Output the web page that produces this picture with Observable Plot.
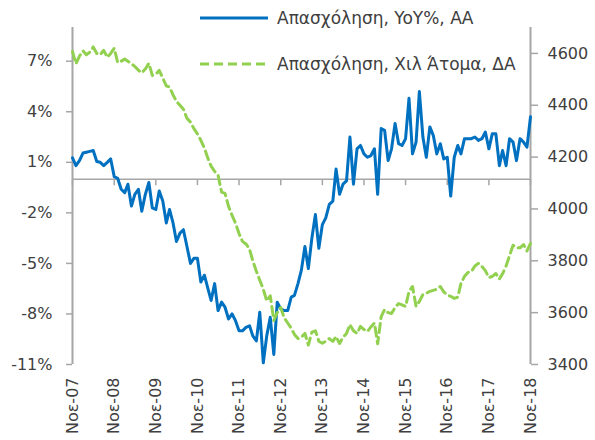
<!DOCTYPE html>
<html><head><meta charset="utf-8">
<script src="https://cdn.jsdelivr.net/npm/d3@7"></script>
<script src="https://cdn.jsdelivr.net/npm/@observablehq/plot@0.6"></script>
<style>
body{margin:0;background:#fff;}
#chart{width:595px;height:440px;}
</style>
</head><body><div id="chart"></div>
<script>
// Monthly observations, Nov 2007 .. Nov 2018
const firstMonth = new Date(Date.UTC(2007, 10, 1));
const lastMonth = new Date(Date.UTC(2018, 10, 1));

// Employment, YoY % (left axis)
const yoy = [
 1.26, 0.8, 1.1, 1.55, 1.6, 1.65, 1.7, 1.05, 1.0, 0.8, 1.0, 1.2,
 0.15, 0.05, -0.6, -0.8, -0.3, -1.6, -0.9, -0.6, -1.9, -0.9, -0.2, -1.7,
 -1.8, -0.7, -1.3, -2.6, -1.8, -2.6, -3.7, -3.2, -3.0, -4.0, -5.0, -4.7,
 -4.7, -6.1, -5.7, -6.5, -7.2, -6.2, -7.8, -7.3, -7.6, -8.3, -8.0, -8.4,
 -9.0, -9.0, -8.8, -8.7, -9.3, -9.6, -7.9, -10.9, -9.3, -8.2, -10.4, -7.3,
 -7.7, -7.8, -7.8, -7.0, -6.9, -6.2, -5.4, -4.0, -5.3, -3.5, -2.1, -4.1,
 -2.7, -2.3, -1.5, -1.3, 0.6, -0.9, -0.3, -0.1, 2.5, -0.3, 1.8, 2.0,
 1.5, 1.3, 1.4, 1.8, -0.9, 3.0, 2.9, 1.1, 1.8, 3.3, 2.1, 2.0,
 2.4, 4.8, 1.5, 2.2, 5.2, 2.5, 1.3, 3.1, 2.6, 1.5, 2.1, 1.2,
 1.3, -1.0, 1.3, 2.0, 1.5, 2.4, 2.4, 2.4, 2.5, 2.3, 2.4, 2.8,
 1.8, 2.7, 2.7, 0.8, 1.7, 0.8, 2.4, 2.2, 1.1, 2.4, 2.2, 1.9,
 3.7
];

// Employment, thousand persons (right axis)
const persons = [
 4608, 4560, 4590, 4610, 4595, 4605, 4625, 4600, 4595, 4612, 4585, 4600,
 4620, 4565, 4570, 4578, 4570, 4560, 4550, 4535, 4525, 4540, 4562, 4515,
 4520, 4535, 4505, 4475, 4470, 4440, 4415, 4400, 4385, 4350, 4335, 4310,
 4290, 4265, 4235, 4195, 4165, 4145, 4130, 4065, 4060, 4010, 3975, 3945,
 3905, 3875, 3865, 3845, 3800, 3760, 3725, 3690, 3645, 3665, 3570, 3600,
 3620, 3580, 3560, 3540, 3516, 3500, 3505, 3520, 3475, 3525, 3530, 3490,
 3482, 3490, 3500, 3489, 3508, 3481, 3505, 3520, 3554, 3530, 3520, 3547,
 3535, 3527, 3545, 3560, 3480, 3585, 3612, 3600, 3597, 3620, 3635, 3630,
 3624, 3682, 3701, 3624, 3643, 3670, 3675, 3682, 3686, 3690, 3701, 3680,
 3668, 3663, 3655, 3660, 3713, 3740, 3755, 3759, 3780, 3790, 3778, 3762,
 3735, 3740, 3751, 3730, 3750, 3780, 3820, 3860, 3850, 3850, 3863, 3838,
 3867
];

const xTickLabels = ["Νοε-07","Νοε-08","Νοε-09","Νοε-10","Νοε-11","Νοε-12","Νοε-13","Νοε-14","Νοε-15","Νοε-16","Νοε-17","Νοε-18"];
const leftTicks = [-11, -8, -5, -2, 1, 4, 7];
const rightTicks = [3400, 3600, 3800, 4000, 4200, 4400, 4600];
const leftDomain = [-11, 9];
const rightDomain = [3400, 4700];
const seriesNames = ["Απασχόληση, YoY%, ΑΑ", "Απασχόληση, Χιλ Άτομα, ΔΑ"];

const months = d3.utcMonth.range(firstMonth, d3.utcMonth.offset(lastMonth, 1));
const data = months.map((date, i) => ({date, yoy: yoy[i], persons: persons[i]}));
const yearTicks = months.filter(d => d.getUTCMonth() === 10);
const labelOf = new Map(yearTicks.map((d, i) => [+d, xTickLabels[i]]));

// map right-axis values onto the left scale
const toLeft = d3.scaleLinear().domain(rightDomain).range(leftDomain);

const gray = "#a6a6a6";
const textColor = "#404040";
const font = "DejaVu Sans";
const tickDown = {draw(ctx) { ctx.moveTo(0, 0); ctx.lineTo(0, 6); }};

const chart = Plot.plot({
  width: 595, height: 440,
  marginLeft: 72, marginRight: 65, marginTop: 27, marginBottom: 76,
  style: {fontFamily: font, fontSize: "16px", color: textColor, background: "white"},
  x: {type: "utc", domain: [firstMonth, lastMonth]},
  y: {domain: leftDomain},
  marks: [
    Plot.ruleY([0], {stroke: gray, strokeWidth: 1.5}),
    Plot.dot(yearTicks, {x: d => d, y: () => 0, symbol: tickDown, stroke: gray, strokeWidth: 1.5, fill: "none"}),
    Plot.ruleX([firstMonth], {stroke: gray, strokeWidth: 2}),
    Plot.ruleX([lastMonth], {stroke: gray, strokeWidth: 2}),
    Plot.axisY(leftTicks, {anchor: "left", tickSize: 6, tickPadding: 14, tickFormat: d => d + "%", stroke: gray, strokeWidth: 1.5, fill: textColor, fontSize: 16, label: null}),
    Plot.axisY(rightTicks.map(toLeft), {anchor: "right", tickSize: 7, tickPadding: 10, tickFormat: d => String(Math.round(toLeft.invert(d))), stroke: gray, strokeWidth: 1.5, fill: textColor, fontSize: 16, label: null}),
    Plot.axisX(yearTicks, {anchor: "bottom", tickSize: 0, tickPadding: 13, tickRotate: -90, tickFormat: d => labelOf.get(+d), fill: textColor, fontSize: 16, label: null}),
    Plot.line(data, {x: "date", y: "yoy", stroke: "#0070C0", strokeWidth: 3}),
    Plot.line(data, {x: "date", y: d => toLeft(d.persons), stroke: "#92D050", strokeWidth: 3, strokeDasharray: "9,5"})
  ]
});
document.getElementById("chart").appendChild(chart);

// legend (inside the plot area, top right)
const svg = d3.select(chart);
const lg = svg.append("g").attr("font-family", font).attr("font-size", 17)
  .attr("fill", textColor).attr("text-anchor", "start");
const legendRows = [
  {y: 18, stroke: "#0070C0", dash: null},
  {y: 64, stroke: "#92D050", dash: "9,5"}
];
legendRows.forEach((r, i) => {
  const ln = lg.append("line").attr("x1", 200).attr("x2", 268).attr("y1", r.y).attr("y2", r.y)
    .attr("stroke", r.stroke).attr("stroke-width", 3);
  if (r.dash) ln.attr("stroke-dasharray", r.dash);
  lg.append("text").attr("x", 277).attr("y", r.y).attr("dy", "0.35em")
    .attr("text-anchor", "start").text(seriesNames[i]);
});
</script>
</body></html>
